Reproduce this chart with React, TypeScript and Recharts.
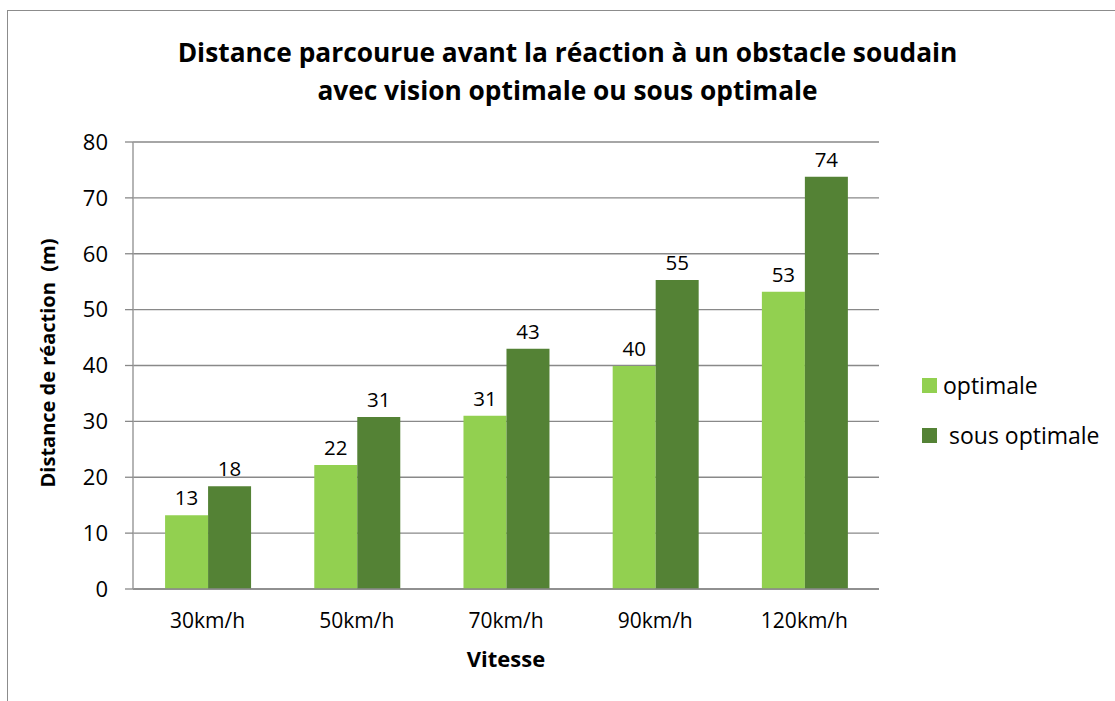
import React from 'react'
import { BarChart, Bar, XAxis, YAxis, CartesianGrid, LabelList } from 'recharts'

const categories = ['30km/h', '50km/h', '70km/h', '90km/h', '120km/h']
const optimale = [13.2, 22.2, 31.0, 39.9, 53.2]
const sousOptimale = [18.4, 30.8, 43.0, 55.3, 73.8]
const yTicks = [0, 10, 20, 30, 40, 50, 60, 70, 80]

const series = [
  { key: 'optimale', name: 'optimale', color: '#92D050', values: optimale },
  { key: 'sousOptimale', name: ' sous optimale', color: '#548235', values: sousOptimale },
]

const data = categories.map((cat, i) => ({
  cat,
  optimale: optimale[i],
  sousOptimale: sousOptimale[i],
}))

const FONT = '"Open Sans", sans-serif'
const GRID = '#898989'

export default function App() {
  return (
    <div
      style={{
        position: 'fixed',
        left: 0,
        top: 0,
        width: 1115,
        height: 701,
        overflow: 'hidden',
        background: '#fff',
        fontFamily: FONT,
        color: '#000',
      }}
    >
      {/* outer frame, only top and left edges are visible */}
      <div
        style={{
          position: 'absolute',
          left: 7,
          top: 10,
          width: 1300,
          height: 900,
          border: '1.5px solid #8c8c8c',
        }}
      />

      <div
        style={{
          position: 'absolute',
          left: 0,
          top: 33,
          width: 1135,
          textAlign: 'center',
          fontWeight: 700,
          fontSize: 26.3,
          lineHeight: '38px',
        }}
      >
        Distance parcourue avant la réaction à un obstacle soudain
        <br />
        avec vision optimale ou sous optimale
      </div>

      <div style={{ position: 'absolute', left: 0, top: 0 }}>
        <BarChart
          width={1115}
          height={701}
          data={data}
          margin={{ top: 142, right: 236, bottom: 82, left: 73 }}
          barGap={0}
          barCategoryGap="21.5%"
        >
          <CartesianGrid vertical={false} stroke={GRID} strokeWidth={1.3} />
          <XAxis
            dataKey="cat"
            height={30}
            tickLine={false}
            tickSize={6}
            tickMargin={18}
            axisLine={{ stroke: GRID, strokeWidth: 1.3 }}
            tick={{ fontSize: 21, fill: '#000', fontFamily: FONT }}
          />
          <YAxis
            width={60}
            domain={[0, 80]}
            ticks={yTicks}
            interval={0}
            tickSize={8}
            tickMargin={17}
            tickLine={{ stroke: GRID, strokeWidth: 1.3 }}
            axisLine={{ stroke: '#9c9c9c', strokeWidth: 1.5 }}
            tick={{ fontSize: 22, fill: '#000', fontFamily: FONT }}
          />
          {series.map((s) => (
            <Bar key={s.key} dataKey={s.key} name={s.name} fill={s.color} isAnimationActive={false}>
              <LabelList
                dataKey={s.key}
                position="top"
                offset={10}
                formatter={(v: number) => Math.round(v)}
                style={{ fontSize: 20.5, fill: '#000', fontFamily: FONT }}
              />
            </Bar>
          ))}
        </BarChart>
      </div>

      <div
        style={{
          position: 'absolute',
          left: 47,
          top: 363,
          transform: 'translate(-50%, -50%) rotate(-90deg)',
          fontWeight: 700,
          fontSize: 20,
          whiteSpace: 'pre',
        }}
      >
        {'Distance de réaction  (m)'}
      </div>

      <div
        style={{
          position: 'absolute',
          left: 506,
          top: 658,
          transform: 'translate(-50%, -50%)',
          fontWeight: 700,
          fontSize: 22,
        }}
      >
        Vitesse
      </div>

      <div style={{ position: 'absolute', left: 922, top: 360, fontSize: 23 }}>
        {series.map((s) => (
          <div
            key={s.key}
            style={{ display: 'flex', alignItems: 'center', height: 50, whiteSpace: 'pre' }}
          >
            <span style={{ width: 15, height: 15, background: s.color, marginRight: 6 }} />
            <span>{s.name}</span>
          </div>
        ))}
      </div>
    </div>
  )
}
